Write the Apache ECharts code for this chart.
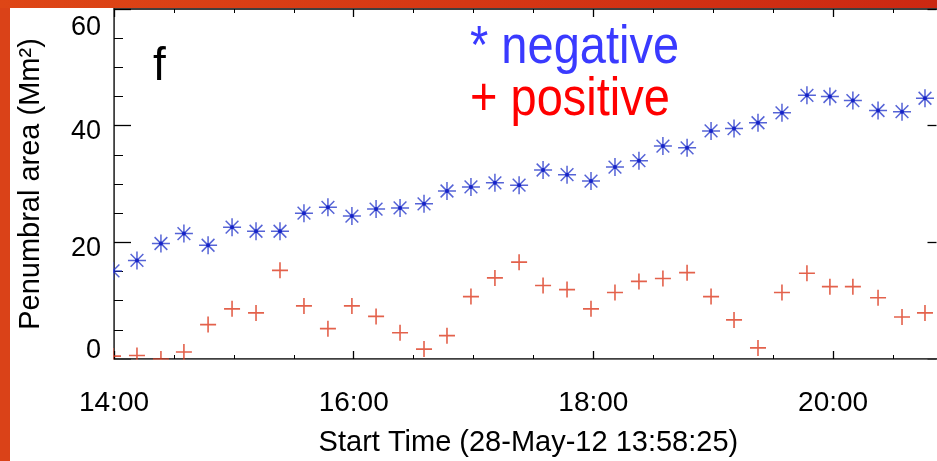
<!DOCTYPE html>
<html><head><meta charset="utf-8">
<script src="https://cdn.jsdelivr.net/npm/echarts@6/dist/echarts.min.js"></script>
<style>html,body{margin:0;padding:0;background:#fff;}#c{width:937px;height:461px;}</style>
</head><body><div id="c"></div>
<script>
// minutes after 14:00 (start time 28-May-12 13:58:25)
const timeMinutes = [-0.5, 11.5, 23.5, 35.0, 47.1, 59.1, 71.1, 83.1, 95.1, 107.1, 119.1, 131.2, 143.2, 155.2, 166.7, 178.7, 190.7, 202.8, 214.8, 226.8, 238.8, 250.8, 262.8, 274.8, 286.9, 298.9, 310.4, 322.4, 334.4, 346.9, 358.4, 369.9, 382.5, 394.5, 406.0];
const negativeArea = [15.1, 16.9, 19.8, 21.5, 19.5, 22.6, 21.9, 21.9, 25.0, 26.0, 24.5, 25.7, 25.9, 26.6, 28.8, 29.5, 30.2, 29.8, 32.4, 31.6, 30.5, 32.9, 34.0, 36.5, 36.2, 39.1, 39.5, 40.5, 42.2, 45.2, 45.0, 44.3, 42.6, 42.4, 44.7];
const positiveArea = [0.5, 0.6, 0.0, 1.2, 5.9, 8.6, 7.9, 15.2, 9.1, 5.2, 9.1, 7.3, 4.5, 1.7, 4.0, 10.7, 13.9, 16.6, 12.6, 11.9, 8.6, 11.4, 13.3, 13.8, 14.8, 10.7, 6.7, 1.9, 11.4, 14.7, 12.4, 12.4, 10.5, 7.2, 7.9];
const xTickLabels = ['14:00', '16:00', '18:00', '20:00', '22:00'];
const yTickLabels = ['0', '20', '40', '60'];
const xTitle = 'Start Time (28-May-12 13:58:25)';
const yTitle = 'Penumbral area (Mm\u00B2)';
const legendNeg = '* negative';
const legendPos = '+ positive';
const panelLabel = 'f';

const FONT = 'Liberation Sans, Arial, Helvetica, sans-serif';
const negData = timeMinutes.map((t, i) => [t, negativeArea[i]]);
const posData = timeMinutes.map((t, i) => [t, positiveArea[i]]);

const asterisk = 'path://M0,-10L0,10M-10,0L10,0M-7.07,-7.07L7.07,7.07M-7.07,7.07L7.07,-7.07';
const plus = 'path://M0,-10L0,10M-10,0L10,0';

const axisLine = { show: true, onZero: false, lineStyle: { color: '#000', width: 1.5 } };
const xCommon = {
  type: 'value', min: 0, max: 480, interval: 120, gridIndex: 0,
  axisLine: axisLine,
  axisTick: { show: true, inside: true, length: 8, lineStyle: { color: '#000', width: 1.3 } },
  minorTick: { show: true, splitNumber: 4, length: 4, lineStyle: { color: '#000', width: 1 } },
  splitLine: { show: false }
};
const yCommon = {
  type: 'value', min: 0, max: 60, interval: 20,
  axisLine: axisLine,
  axisTick: { show: true, inside: true, length: 17, lineStyle: { color: '#000', width: 1.3 } },
  minorTick: { show: true, splitNumber: 4, length: 9, lineStyle: { color: '#000', width: 1 } },
  splitLine: { show: false }
};
const yRich = {
  lo: { fontFamily: FONT, fontSize: 27, color: '#000', padding: [0, 0, 16, 0] },
  mid: { fontFamily: FONT, fontSize: 27, color: '#000', padding: [12, 0, 0, 0] },
  hi: { fontFamily: FONT, fontSize: 27, color: '#000', padding: [38, 0, 0, 0] }
};

const chart = echarts.init(document.getElementById('c'), null, { renderer: 'canvas' });
chart.setOption({
  animation: false,
  backgroundColor: '#fff',
  grid: [
    { left: 114, top: 9, bottom: 102, width: 958.8, containLabel: false, outerBoundsMode: 'none' },
    { left: 114, top: 9, bottom: 102, width: 822.5, containLabel: false, outerBoundsMode: 'none' }
  ],
  xAxis: [
    Object.assign({}, xCommon, {
      position: 'bottom',
      name: xTitle, nameLocation: 'middle', nameGap: 69,
      nameTextStyle: { fontFamily: FONT, fontSize: 29, color: '#000', padding: [0, 130, 0, 0] },
      axisLabel: { show: true, margin: 30, fontFamily: FONT, fontSize: 28, color: '#000',
        formatter: v => xTickLabels[Math.round(v / 120)] || '' }
    }),
    Object.assign({}, xCommon, { position: 'top', axisLabel: { show: false } }),
    { type: 'value', gridIndex: 1, min: 0, max: 1, show: false }
  ],
  yAxis: [
    Object.assign({}, yCommon, {
      position: 'left', gridIndex: 0,
      name: yTitle, nameLocation: 'middle', nameRotate: 90, nameGap: 69,
      nameTextStyle: { fontFamily: FONT, fontSize: 29, color: '#000' },
      axisLabel: { show: true, margin: 13, fontFamily: FONT, fontSize: 27, color: '#000',
        rich: yRich,
        formatter: v => {
          const k = Math.round(v / 20);
          const key = k === 0 ? 'lo' : (k === 3 ? 'hi' : 'mid');
          return '{' + key + '|' + yTickLabels[k] + '}';
        } }
    }),
    // right-hand frame axis: only the inner ends of its ticks fall inside the picture
    Object.assign({}, yCommon, {
      position: 'right', gridIndex: 1,
      axisLine: { show: false, onZero: false },
      axisTick: { show: true, inside: true, length: 9, lineStyle: { color: '#000', width: 1.3 } },
      minorTick: { show: false },
      axisLabel: { show: false }
    })
  ],
  series: [
    {
      type: 'scatter', name: 'negative', data: negData, clip: false, silent: true,
      symbol: asterisk, symbolSize: 18,
      itemStyle: { color: 'rgba(0,0,0,0)', borderColor: '#2a3ccc', borderWidth: 1.5 },
      xAxisIndex: 0, yAxisIndex: 0
    },
    {
      type: 'scatter', name: 'negative-center', data: negData, clip: false, silent: true,
      symbol: 'circle', symbolSize: 4,
      itemStyle: { color: '#0814c4' },
      xAxisIndex: 0, yAxisIndex: 0
    },
    {
      type: 'scatter', name: 'positive', data: posData, clip: false, silent: true,
      symbol: plus, symbolSize: 16,
      itemStyle: { color: 'rgba(0,0,0,0)', borderColor: '#dc3a1e', borderWidth: 1.6 },
      xAxisIndex: 0, yAxisIndex: 0
    }
  ],
  graphic: [
    // masks that hide the parts of marks lying outside the plot box
    { type: 'rect', z: 10, silent: true, shape: { x: 102, y: 9, width: 11.2, height: 352 }, style: { fill: '#fff' } },
    { type: 'rect', z: 10, silent: true, shape: { x: 102, y: 359.8, width: 835, height: 24 }, style: { fill: '#fff' } },
    { type: 'rect', z: 100, shape: { x: 0, y: 0, width: 10, height: 461 }, style: { fill: '#da4218' } },
    { type: 'rect', z: 100, shape: { x: 0, y: 0, width: 937, height: 8 },
      style: { fill: new echarts.graphic.LinearGradient(0, 0, 1, 0, [{ offset: 0, color: '#de4616' }, { offset: 1, color: '#cc2812' }]) } },
    { type: 'text', z: 50, originX: 470, originY: 60, scaleY: 1.15, y: 2,
      style: { text: legendNeg, x: 470, y: 24, font: '47px ' + FONT, fill: '#3a3aff', verticalAlign: 'top' } },
    { type: 'text', z: 50, originX: 470, originY: 110, scaleY: 1.15, y: 3,
      style: { text: legendPos, x: 470, y: 75, font: '47px ' + FONT, fill: '#ff0000', verticalAlign: 'top' } },
    { type: 'text', z: 50, style: { text: panelLabel, x: 153, y: 44, font: '46px ' + FONT, fill: '#000', verticalAlign: 'top' } }
  ]
});
</script></body></html>
